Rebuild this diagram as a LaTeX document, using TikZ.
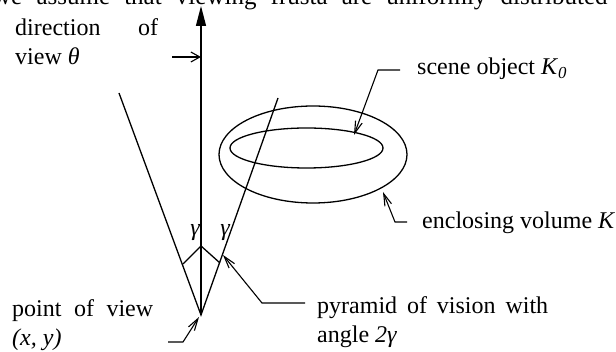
\documentclass[tikz,border=0pt]{standalone}
\usepackage{fontspec}
\setmainfont{Liberation Serif}
\usetikzlibrary{
  shapes.geometric,
  arrows.meta
}
\tikzset{
  ray/.style     = {line width=1.3pt},
  axisarr/.style = {line width=1.3pt, -{Triangle[length=20pt, width=10pt]}},
  leader/.style  = {line width=1.1pt, -{Straight Barb[length=12pt, width=7pt]}},
  pointer/.style = {line width=1.1pt, -{Straight Barb[length=9pt, width=10pt]}},
  volume/.style  = {ellipse, draw, line width=1.3pt, inner sep=0pt,
                    minimum width=#1},
  lbl/.style     = {inner sep=0pt, anchor=base west,
                    font=\fontsize{24}{29}\selectfont},
  glbl/.style    = {inner sep=0pt, font=\fontsize{24}{29}\selectfont\itshape},
}
\newcommand{\twolines}[3]{\parbox[t]{#1}{\makebox[#1][s]{#2}\\#3}}

\begin{document}
\begin{tikzpicture}[x=1pt, y=-1pt]

  \clip (0,0) rectangle (616,352);

  %% running text of the page, cut at the top
  \node[lbl, font=\fontsize{25}{30}\selectfont] (pagetext) at (-7,5)
    {\makebox[648pt][s]{we assume that viewing frusta are uniformly distributed in}};

  %% point of view and pyramid of vision
  \coordinate (pov)      at (201,315);
  \coordinate (axtop)    at (201,6);
  \coordinate (lefttop)  at (119,93);
  \coordinate (righttop) at (278,98);
  \draw[axisarr] (pov) -- (axtop);
  \draw[ray] (lefttop) -- (pov) -- (righttop);

  %% angle marks
  \coordinate (gl) at (183,264);
  \coordinate (gm) at (201,246);
  \coordinate (gr) at (220,263);
  \draw[ray] (gl) -- (gm) -- (gr);
  \node[glbl] (gammal) at (195,233) {γ};
  \node[glbl] (gammar) at (225,233) {γ};

  %% scene object and enclosing volume
  \node[volume=188pt, minimum height=97pt] (outer) at (313,154.5) {};
  \node[volume=153pt, minimum height=40pt] (inner) at (306.5,148) {};

  %% labels
  \node[lbl] (dirlbl) at (15,36)
    {\twolines{143pt}{direction of}{view \textit{θ}}};
  \node[lbl] (povlbl) at (12,317)
    {\twolines{141pt}{point of view}{\textit{(x, y)}}};
  \node[lbl] (pyrlbl) at (317,314)
    {\twolines{231pt}{pyramid of vision with}{angle \textit{2γ}}};
  \node[lbl] (scenelbl) at (417,75)
    {scene object \textit{K}\textsubscript{\textit{0}}};
  \node[lbl] (enclbl) at (422,229) {enclosing volume \textit{K}};

  %% leaders
  \coordinate (dirfoot)   at (172,57);
  \coordinate (povfoot)   at (168,342);
  \coordinate (pyrfoot)   at (305,303);
  \coordinate (scenefoot) at (400,70);
  \coordinate (encfoot)   at (407,222);
  \coordinate (povtip)    at (199,317);
  \coordinate (pyrtip)    at (223,255);
  \coordinate (scenetip)  at (354,135);
  \coordinate (enctip)    at (383,192);

  \draw[pointer] (dirfoot) -- (dirfoot -| pov);
  \draw[leader] (povfoot) -- ++(15,0) -- (povtip);
  \draw[leader] (pyrfoot) -- ++(-43,0) -- (pyrtip);
  \draw[leader] (scenefoot) -- ++(-22,0) -- (scenetip);
  \draw[leader] (encfoot) -- ++(-12,0) -- (enctip);

\end{tikzpicture}
\end{document}
